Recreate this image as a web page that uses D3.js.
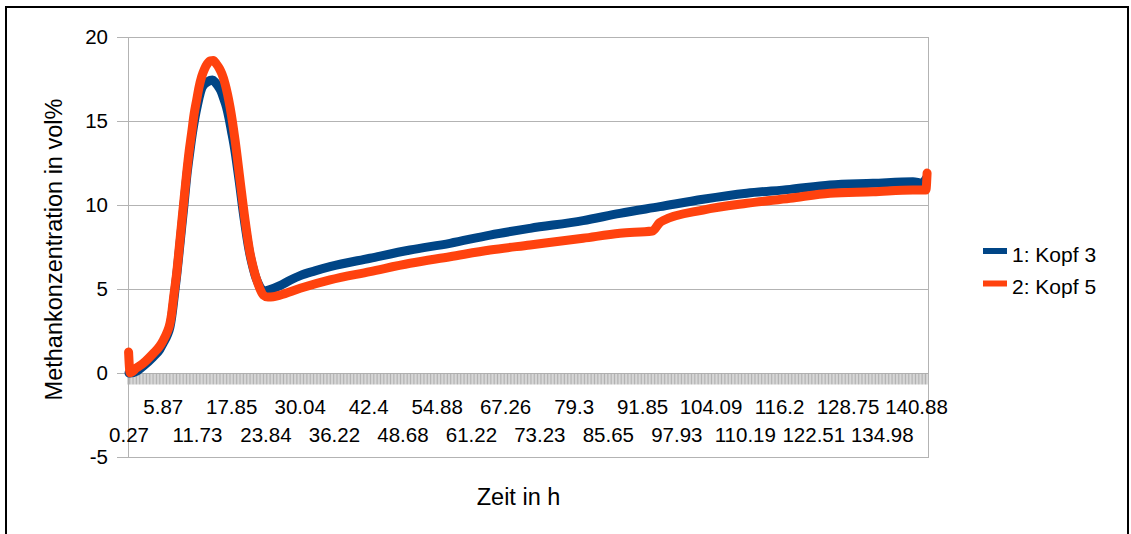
<!DOCTYPE html>
<html>
<head>
<meta charset="utf-8">
<script src="https://cdn.jsdelivr.net/npm/d3@7"></script>
<style>
  html, body { margin: 0; padding: 0; background: #ffffff; }
  svg { display: block; }
  text { font-family: "Liberation Sans", Arial, sans-serif; fill: #000; }
</style>
</head>
<body>
<svg id="chart" width="1131" height="534"></svg>
<script>
// ---- data ----
const xTickLabels = ["0.27","5.87","11.73","17.85","23.84","30.04","36.22","42.4","48.68","54.88","61.22","67.26","73.23","79.3","85.65","91.85","97.93","104.09","110.19","116.2","122.51","128.75","134.98","140.88"];
const yTickValues = [-5, 0, 5, 10, 15, 20];
const seriesNames = ["1: Kopf 3", "2: Kopf 5"];

// time (h), methane (vol%)
const kopf3Time = [0.27,0.45,1.5,2.56,4.2,5.3,5.89,6.5,7.03,7.3,7.62,8.22,8.8,9.4,9.96,10.4,10.82,11.3,11.73,12.1,12.5,13.0,13.48,14.0,14.41,14.9,15.4,15.9,16.38,16.9,17.36,17.8,18.25,19.13,20.0,20.88,21.4,21.93,22.4,22.81,23.6,24.56,26.37,28.2,30.04,32.7,35.42,42.64,49.97,57.25,64.5,71.52,80.95,87.75,94.9,102.65,110.44,118.13,125.46,133.3,140.27,141.8,142.6];
const kopf3Value = [0.0,0.0,0.1,0.4,0.95,1.4,1.79,2.2,2.74,3.3,4.17,5.95,7.92,9.94,11.9,13.1,14.17,15.2,15.95,16.5,16.96,17.2,17.32,17.42,17.44,17.3,17.08,16.8,16.37,15.85,15.18,14.4,13.57,11.49,9.23,7.32,6.5,5.83,5.4,5.12,4.88,4.96,5.2,5.52,5.8,6.08,6.33,6.83,7.32,7.72,8.21,8.61,9.07,9.5,9.9,10.34,10.7,10.93,11.19,11.29,11.39,11.3,11.6];

const kopf5Time = [0.2,0.45,1.5,2.6,4.25,5.3,5.9,6.5,7.03,7.3,7.59,8.17,8.74,9.3,9.88,10.3,10.73,11.15,11.59,12.0,12.48,13.0,13.48,14.0,14.55,15.1,15.62,16.1,16.64,17.1,17.54,18.0,18.43,19.3,20.18,21.05,21.6,22.22,22.8,23.38,24.2,25.16,26.37,30.04,35.42,42.64,49.97,57.25,64.5,71.52,80.95,87.75,93.6,94.9,95.47,102.65,110.44,118.13,125.46,133.3,140.27,142.5,142.7];
const kopf5Value = [1.25,0.02,0.3,0.58,1.17,1.6,1.96,2.4,2.96,3.5,4.35,5.95,7.92,9.9,11.9,13.2,14.29,15.4,16.25,17.0,17.64,18.1,18.4,18.58,18.6,18.4,18.14,17.8,17.24,16.6,15.85,14.9,13.87,11.49,9.11,7.14,6.3,5.54,5.0,4.64,4.52,4.54,4.64,5.04,5.54,6.03,6.53,6.92,7.32,7.62,8.02,8.32,8.45,8.95,9.07,9.7,10.1,10.4,10.7,10.79,10.9,10.9,11.9];

// ---- layout ----
const W = 1131, H = 534;
const plot = { left: 128, right: 928, top: 37, bottom: 457 };
const labelStep = 34.24;
const firstLabelX = 129;
const catPerLabel = 24;
const colors = ["#004586", "#ff420e"];
const gridColor = "#b3b3b3";

const svg = d3.select("#chart");
svg.append("rect").attr("width", W).attr("height", H).attr("fill", "#fff");

// outer frame
svg.append("rect")
  .attr("x", 6).attr("y", 7).attr("width", 1122).attr("height", 560)
  .attr("fill", "none").attr("stroke", "#000").attr("stroke-width", 2);

// scales
const labelTimes = xTickLabels.map(Number);
const x = d3.scaleLinear()
  .domain(labelTimes)
  .range(labelTimes.map((_, i) => firstLabelX + i * labelStep));
const xIndex = d3.scaleLinear().domain([0, 1]).range([firstLabelX, firstLabelX + labelStep]);
const y = d3.scaleLinear().domain([-5, 20]).range([plot.bottom, plot.top]);

// gridlines + y ticks
const gy = svg.append("g");
yTickValues.forEach(v => {
  gy.append("line")
    .attr("x1", 117).attr("x2", plot.right)
    .attr("y1", Math.round(y(v)) + 0.5).attr("y2", Math.round(y(v)) + 0.5)
    .attr("stroke", gridColor).attr("stroke-width", 1);
  gy.append("text")
    .attr("x", 108).attr("y", y(v)).attr("dy", "0.36em")
    .attr("text-anchor", "end").attr("font-size", "20.5px")
    .text(v);
});

// y axis line and right border
svg.append("line").attr("x1", plot.left + 0.5).attr("x2", plot.left + 0.5)
  .attr("y1", plot.top).attr("y2", plot.bottom + 1).attr("stroke", gridColor);
svg.append("line").attr("x1", plot.right + 0.5).attr("x2", plot.right + 0.5)
  .attr("y1", plot.top).attr("y2", plot.bottom + 1).attr("stroke", gridColor);

// category tick hatch on x axis (y=0)
const y0 = Math.round(y(0)) + 0.5;
const catStep = labelStep / catPerLabel;
const nCat = Math.floor((plot.right - plot.left) / catStep);
const hatch = svg.append("g");
d3.range(nCat + 1).forEach(i => {
  const xx = plot.left + i * catStep;
  hatch.append("line")
    .attr("x1", xx).attr("x2", xx)
    .attr("y1", y0).attr("y2", y0 + 11)
    .attr("stroke", "#a8a8a8").attr("stroke-width", 0.9);
});

// x tick labels (staggered)
const gx = svg.append("g");
xTickLabels.forEach((lab, i) => {
  gx.append("text")
    .attr("x", xIndex(i))
    .attr("y", i % 2 === 0 ? 441.7 : 414)
    .attr("text-anchor", "middle").attr("font-size", "20.5px")
    .text(lab);
});

// lines
const line = d3.line()
  .x(d => x(d[0]))
  .y(d => y(d[1]))
  .curve(d3.curveMonotoneX);

const s1 = kopf3Time.map((t, i) => [t, kopf3Value[i]]);
const s2 = kopf5Time.map((t, i) => [t, kopf5Value[i]]);

[s1, s2].forEach((s, k) => {
  svg.append("path")
    .datum(s)
    .attr("d", line)
    .attr("fill", "none")
    .attr("stroke", colors[k])
    .attr("stroke-width", 9)
    .attr("stroke-linejoin", "round")
    .attr("stroke-linecap", "round");
});

// axis titles
svg.append("text")
  .attr("x", 518.5).attr("y", 505)
  .attr("text-anchor", "middle").attr("font-size", "23.5px")
  .text("Zeit in h");
svg.append("text")
  .attr("transform", "translate(61.7,249.5) rotate(-90)")
  .attr("text-anchor", "middle").attr("font-size", "23.5px")
  .text("Methankonzentration in vol%");

// legend
const legendY = [251, 283.5];
seriesNames.forEach((name, k) => {
  svg.append("line")
    .attr("x1", 983).attr("x2", 1007)
    .attr("y1", legendY[k]).attr("y2", legendY[k])
    .attr("stroke", colors[k]).attr("stroke-width", 6);
  svg.append("text")
    .attr("x", 1012).attr("y", legendY[k] + 10.5)
    .attr("font-size", "21px")
    .text(name);
});
</script>
</body>
</html>
